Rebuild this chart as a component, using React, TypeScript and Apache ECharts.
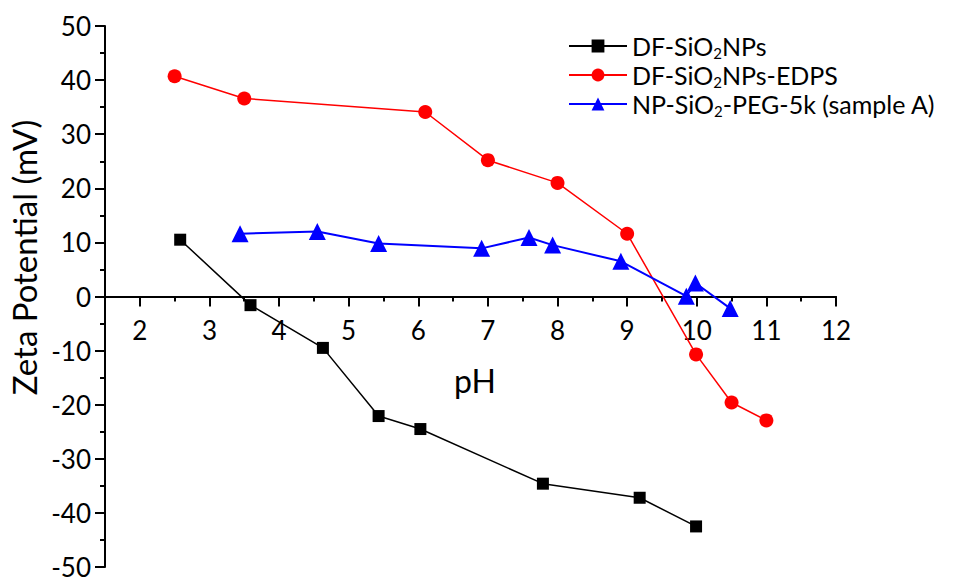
import React, { useEffect, useRef } from "react";
import * as echarts from "echarts";

const seriesNames = ["DF-SiO2NPs", "DF-SiO2NPs-EDPS", "NP-SiO2-PEG-5k (sample A)"];
const legendRich = ["DF-SiO{sub|2}NPs", "DF-SiO{sub|2}NPs-EDPS", "NP-SiO{sub|2}-PEG-5k (sample A)"];

const blackPH = [2.58, 3.59, 4.63, 5.43, 6.03, 7.79, 9.18, 9.99];
const blackZeta = [10.5, -1.6, -9.5, -22.1, -24.5, -34.6, -37.2, -42.5];

const redPH = [2.5, 3.5, 6.1, 7.0, 8.0, 9.0, 9.99, 10.5, 11.0];
const redZeta = [40.7, 36.6, 34.1, 25.2, 21.0, 11.6, -10.7, -19.6, -22.9];

const bluePH = [3.44, 4.55, 5.43, 6.91, 7.59, 7.93, 8.91, 9.85, 9.98, 10.48];
const blueZeta = [11.6, 12.0, 9.8, 8.9, 10.9, 9.5, 6.5, 0.05, 2.5, -2.2];

const xMin = 1.5;
const xMax = 12;
const yMin = -50;
const yMax = 50;
const xTickLabels = [2, 3, 4, 5, 6, 7, 8, 9, 10, 11, 12];

const FONT = "Lato";

function zip(xs: number[], ys: number[]) {
  return xs.map((x, i) => [x, ys[i]]);
}

export default function App() {
  const ref = useRef<HTMLDivElement>(null);
  useEffect(() => {
    if (!ref.current) return;
    const chart = echarts.init(ref.current, undefined, { renderer: "svg" });
    const W = 968;
    const gLeft = 105;
    const gRight = 132;
    const gTop = 26;
    const gBottom = 10;
    const plotW = W - gLeft - gRight;
    const unit = plotW / (xMax - xMin);
    const plotH = 577 - gTop - gBottom;
    const zeroY = gTop + plotH * (yMax / (yMax - yMin));
    const majorLeft = gLeft + (xTickLabels[0] - xMin) * unit;

    const option: any = {
      animation: false,
      backgroundColor: "#ffffff",
      textStyle: { fontFamily: FONT },
      grid: [
        { left: gLeft, right: gRight, top: gTop, bottom: gBottom, outerBoundsMode: "none", containLabel: false },
        { left: majorLeft, right: gRight, top: zeroY - 100, height: 100, outerBoundsMode: "none", containLabel: false },
      ],
      legend: {
        orient: "vertical",
        left: 563,
        top: 27,
        itemWidth: 58,
        itemHeight: 16,
        itemGap: 1,
        data: seriesNames,
        formatter: (name: string) => legendRich[seriesNames.indexOf(name)],
        textStyle: {
          fontFamily: FONT,
          fontSize: 25,
          color: "#000",
          lineHeight: 28,
          rich: {
            sub: { fontSize: 15, fontFamily: FONT, color: "#000", lineHeight: 12, verticalAlign: "bottom" },
          },
        },
      },
      xAxis: [
        {
          type: "value",
          gridIndex: 0,
          min: xMin,
          max: xMax,
          interval: 0.5,
          axisLine: { onZero: true, lineStyle: { color: "#000", width: 2 } },
          axisTick: { show: true, length: 5, lineStyle: { color: "#000", width: 2 } },
          axisLabel: { show: false },
          splitLine: { show: false },
        },
        {
          type: "value",
          gridIndex: 1,
          min: xTickLabels[0],
          max: xTickLabels[xTickLabels.length - 1],
          interval: 1,
          name: "pH",
          nameLocation: "middle",
          nameGap: 68,
          nameTextStyle: { fontFamily: FONT, fontSize: 32, color: "#000", padding: [0, 26, 0, 0] },
          axisLine: { show: false },
          axisTick: { show: true, length: 10, lineStyle: { color: "#000", width: 2 } },
          axisLabel: {
            show: true,
            margin: 20,
            fontFamily: FONT,
            fontSize: 26,
            color: "#000",
            formatter: (v: number) => String(v),
          },
          splitLine: { show: false },
        },
      ],
      yAxis: [
        {
          type: "value",
          gridIndex: 0,
          min: yMin,
          max: yMax,
          interval: 10,
          name: "Zeta Potential (mV)",
          nameLocation: "middle",
          nameGap: 63,
          nameTextStyle: { fontFamily: FONT, fontSize: 33, color: "#000", padding: [0, 0, 0, 78] },
          axisLine: { show: true, onZero: false, lineStyle: { color: "#000", width: 2 } },
          axisTick: { show: true, length: 10, lineStyle: { color: "#000", width: 2 } },
          minorTick: { show: true, splitNumber: 2, length: 5, lineStyle: { color: "#000", width: 2 } },
          axisLabel: { margin: 14, fontFamily: FONT, fontSize: 26, color: "#000" },
          splitLine: { show: false },
          minorSplitLine: { show: false },
        },
        {
          type: "value",
          gridIndex: 1,
          min: 0,
          max: 1,
          show: false,
        },
      ],
      series: [
        {
          name: seriesNames[0],
          type: "line",
          xAxisIndex: 0,
          yAxisIndex: 0,
          data: zip(blackPH, blackZeta),
          symbol: "rect",
          symbolSize: 12,
          itemStyle: { color: "#000000" },
          lineStyle: { color: "#000000", width: 1.5 },
        },
        {
          name: seriesNames[1],
          type: "line",
          xAxisIndex: 0,
          yAxisIndex: 0,
          data: zip(redPH, redZeta),
          symbol: "circle",
          symbolSize: 14,
          itemStyle: { color: "#ff0000" },
          lineStyle: { color: "#ff0000", width: 1.5 },
        },
        {
          name: seriesNames[2],
          type: "line",
          xAxisIndex: 0,
          yAxisIndex: 0,
          data: zip(bluePH, blueZeta),
          symbol: "triangle",
          symbolSize: 17,
          itemStyle: { color: "#0000ff" },
          lineStyle: { color: "#0000ff", width: 2 },
        },
      ],
    };
    chart.setOption(option);
    return () => chart.dispose();
  }, []);
  return (
    <div
      ref={ref}
      style={{ position: "fixed", left: 0, top: 0, width: 968, height: 577 }}
    />
  );
}
